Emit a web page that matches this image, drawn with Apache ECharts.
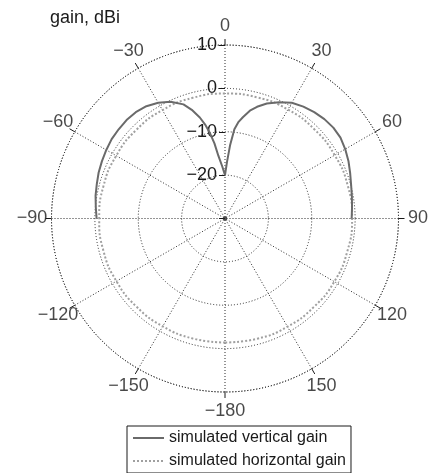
<!DOCTYPE html>
<html>
<head>
<meta charset="utf-8">
<script src="https://cdn.jsdelivr.net/npm/echarts@6/dist/echarts.min.js"></script>
<style>
  html, body { margin: 0; padding: 0; background: #ffffff; }
  #chart { width: 429px; height: 473px; }
</style>
</head>
<body>
<div id="chart"></div>
<script>
// Angle tick labels, one per 30 degrees, clockwise from the top
const angleLabels = ['0', '30', '60', '90', '120', '150', '\u2212180', '\u2212150', '\u2212120', '\u221290', '\u221260', '\u221230'];
// Radial tick labels (dBi), from the centre outwards
const radiusLabels = ['', '\u221220', '\u221210', '0', '10'];

// Simulated vertical gain (dBi) over the front half-plane
const vAngles = [-90, -85, -80, -75, -70, -65, -60, -55, -50, -45, -40, -35, -30, -25, -20, -17, -14, -12, -10, -8, -6, -3, 0,
                 2, 4, 6, 8, 10, 13, 16, 20, 25, 30, 35, 40, 45, 50, 55, 60, 65, 70, 75, 80, 85, 90];
const vGain = [-0.4, -0.1, 0.3, 0.6, 1.0, 1.3, 1.6, 1.9, 2.0, 2.1, 2.0, 1.6, 0.8, -0.3, -2.0, -3.8, -6.0, -7.8, -10.0, -12.5, -15.5, -18.0, -20.0,
               -17.0, -13.0, -9.3, -7.5, -6.3, -4.5, -3.2, -1.8, -0.4, 0.8, 1.5, 2.0, 2.4, 2.6, 2.5, 2.0, 1.4, 0.7, 0.1, -0.3, -0.6, -0.8];

// Simulated horizontal gain (dBi), full circle
const hAngles = [-180, -165, -150, -135, -120, -105, -90, -75, -60, -45, -30, -15, 0,
                 15, 30, 45, 60, 75, 90, 105, 120, 135, 150, 165, 180];
const hGain = [-1.4, -1.35, -1.3, -1.2, -1.1, -1.0, -1.0, -1.0, -1.05, -1.1, -1.15, -1.2, -1.2,
               -1.1, -1.0, -0.9, -0.8, -0.7, -0.7, -0.8, -0.9, -1.1, -1.2, -1.3, -1.4];

const rMin = -30, rMax = 10, rStep = 10, aStep = 30;

// angle axis runs 0..360 clockwise from the top, so negative angles wrap
const wrap = a => (a < 0 ? a + 360 : a);
const toPolar = (angles, gains) => angles.map((a, i) => [gains[i], wrap(a)]);

// angle labels sit just outside the outer ring, centred on their spoke;
// a leading minus sign hangs to the left of the digits
const labelRadius = rMax + (rMax - rMin) * 0.112;
const angleLabelData = angleLabels.map((t, i) => ({
  value: [labelRadius, i * aStep],
  label: { offset: [t.charAt(0) === '\u2212' ? -5 : 0, 2] }
}));

const gridLine = { color: '#2a2a2a', width: 1, type: [1, 2] };
const textColor = '#1a1a1a';
const font = 'Liberation Sans, Arial, Helvetica, sans-serif';

const chart = echarts.init(document.getElementById('chart'), null, { renderer: 'canvas' });
chart.setOption({
  animation: false,
  backgroundColor: '#ffffff',
  title: {
    text: 'gain, dBi',
    left: 50,
    top: 9,
    padding: 0,
    textStyle: { fontSize: 18, fontWeight: 'normal', color: textColor, fontFamily: font }
  },
  legend: {
    data: ['simulated vertical gain', 'simulated horizontal gain'],
    orient: 'vertical',
    left: 127,
    top: 426,
    padding: [4, 5, 4, 5],
    itemGap: 7,
    itemWidth: 31,
    itemHeight: 14,
    itemStyle: { opacity: 0 },
    borderColor: '#1a1a1a',
    borderWidth: 1,
    borderRadius: 0,
    textStyle: { fontSize: 16, color: textColor, fontFamily: font }
  },
  polar: {
    center: [225, 218.5],
    radius: 173.5
  },
  angleAxis: {
    type: 'value',
    min: 0,
    max: 360,
    interval: aStep,
    startAngle: 90,
    clockwise: true,
    axisLine: { show: true, lineStyle: gridLine },
    axisTick: { show: true, length: 6, lineStyle: { color: '#1a1a1a', width: 1 } },
    splitLine: { show: true, lineStyle: gridLine },
    axisLabel: { show: false }
  },
  radiusAxis: {
    type: 'value',
    min: rMin,
    max: rMax,
    interval: rStep,
    axisLine: { show: false },
    axisTick: { show: true, length: 6, lineStyle: { color: '#1a1a1a', width: 1 } },
    splitLine: { show: true, lineStyle: gridLine },
    axisLabel: {
      margin: 8,
      fontSize: 18,
      color: textColor,
      fontFamily: font,
      formatter: v => radiusLabels[Math.round((v - rMin) / rStep)]
    }
  },
  series: [
    {
      name: 'simulated vertical gain',
      type: 'line',
      coordinateSystem: 'polar',
      data: toPolar(vAngles, vGain),
      symbol: 'none',
      smooth: false,
      lineStyle: { color: '#6a6a6a', width: 2 },
      itemStyle: { color: '#6a6a6a' },
      z: 5
    },
    {
      name: 'simulated horizontal gain',
      type: 'line',
      coordinateSystem: 'polar',
      data: toPolar(hAngles, hGain),
      symbol: 'none',
      smooth: true,
      lineStyle: { color: '#a0a0a0', width: 2, type: 'dotted' },
      itemStyle: { color: '#a0a0a0' },
      z: 4
    },
    {
      name: 'origin',
      type: 'scatter',
      coordinateSystem: 'polar',
      data: [[rMin, 0]],
      symbol: 'circle',
      symbolSize: 4,
      itemStyle: { color: '#2a2a2a' },
      silent: true,
      z: 6
    },
    {
      name: 'angle labels',
      type: 'scatter',
      coordinateSystem: 'polar',
      data: angleLabelData,
      clip: false,
      symbolSize: 2,
      itemStyle: { color: 'rgba(0,0,0,0)' },
      silent: true,
      label: {
        show: true,
        position: 'inside',
        fontSize: 18,
        color: textColor,
        fontFamily: font,
        formatter: p => angleLabels[p.dataIndex]
      },
      labelLayout: { hideOverlap: false },
      z: 6
    }
  ]
});
</script>
</body>
</html>
